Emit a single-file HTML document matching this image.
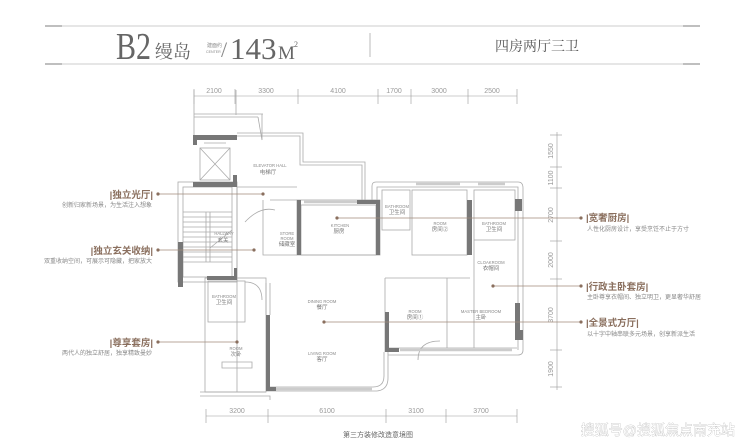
<!DOCTYPE html>
<html><head><meta charset="utf-8"><style>
html,body{margin:0;padding:0;background:#fff;}
svg{display:block;}
text{font-family:"Liberation Sans","Noto Sans CJK SC",sans-serif;}
.en{font-size:4.2px;fill:#888;}
.cn{font-size:5.5px;fill:#777;}
.dim{font-size:7px;fill:#999;font-family:"Liberation Sans Narrow","Liberation Sans",sans-serif;}
.t{font-size:9.5px;font-weight:bold;fill:#8a6f5e;}
.s{font-size:6px;fill:#888;}
.w{fill:none;stroke:#aaa;stroke-width:0.8;}
.d{fill:#777;}
</style></head><body>
<svg width="740" height="446" viewBox="0 0 740 446" xmlns="http://www.w3.org/2000/svg">
<!-- header -->
<line x1="45" y1="26" x2="700" y2="26" stroke="#ccc" stroke-width="1"/>
<line x1="45" y1="64" x2="700" y2="64" stroke="#ccc" stroke-width="1"/>
<line x1="45" y1="26" x2="62" y2="26" stroke="#aaa" stroke-width="1.5"/>
<line x1="45" y1="64" x2="62" y2="64" stroke="#aaa" stroke-width="1.5"/>
<line x1="683" y1="26" x2="700" y2="26" stroke="#aaa" stroke-width="1.5"/>
<line x1="683" y1="64" x2="700" y2="64" stroke="#aaa" stroke-width="1.5"/>
<text x="116" y="59" textLength="35" lengthAdjust="spacingAndGlyphs" style="font-family:'Liberation Serif',serif;font-size:38px;fill:#666;">B2</text>
<text x="155" y="58" style="font-family:'Liberation Serif','Noto Serif CJK SC',serif;font-size:18px;fill:#666;">缦岛</text>
<text x="207" y="47" style="font-size:5px;fill:#888;">建面约</text>
<text x="206" y="53" style="font-size:3.6px;fill:#888;">CENTER</text>
<text x="221" y="57" style="font-family:'Liberation Serif',serif;font-size:22px;fill:#888;">/</text>
<text x="230" y="59" style="font-family:'Liberation Serif',serif;font-size:31px;fill:#666;">143</text>
<text x="278" y="59" style="font-family:'Liberation Serif',serif;font-size:19px;fill:#666;">M</text>
<text x="294" y="47" style="font-family:'Liberation Serif',serif;font-size:8px;fill:#666;">2</text>
<line x1="370" y1="33" x2="370" y2="57" stroke="#aaa" stroke-width="0.8"/>
<text x="495" y="51" style="font-family:'Liberation Serif','Noto Serif CJK SC',serif;font-size:14px;fill:#555;">四房两厅三卫</text>

<!-- top dims -->
<g stroke="#999" stroke-width="0.6">
<line x1="194" y1="96" x2="517" y2="96"/>
<line x1="194" y1="89" x2="194" y2="104"/><line x1="235" y1="89" x2="235" y2="104"/><line x1="298" y1="89" x2="298" y2="104"/><line x1="378" y1="89" x2="378" y2="104"/><line x1="411" y1="89" x2="411" y2="104"/><line x1="468" y1="89" x2="468" y2="104"/><line x1="517" y1="89" x2="517" y2="104"/>
</g>
<g class="dim" text-anchor="middle">
<text x="214" y="93">2100</text><text x="266" y="93">3300</text><text x="338" y="93">4100</text><text x="394" y="93">1700</text><text x="439" y="93">3000</text><text x="492" y="93">2500</text>
</g>
<!-- bottom dims -->
<g stroke="#999" stroke-width="0.6">
<line x1="206" y1="416" x2="517" y2="416"/>
<line x1="206" y1="409" x2="206" y2="423"/><line x1="268" y1="409" x2="268" y2="423"/><line x1="386" y1="409" x2="386" y2="423"/><line x1="446" y1="409" x2="446" y2="423"/><line x1="517" y1="409" x2="517" y2="423"/>
</g>
<g class="dim" text-anchor="middle">
<text x="237" y="413">3200</text><text x="327" y="413">6100</text><text x="416" y="413">3100</text><text x="481" y="413">3700</text>
</g>
<!-- right dims -->
<g stroke="#999" stroke-width="0.6">
<line x1="557" y1="132" x2="557" y2="390"/>
<line x1="550" y1="135" x2="562" y2="135"/><line x1="550" y1="167" x2="562" y2="167"/><line x1="550" y1="188" x2="562" y2="188"/><line x1="550" y1="241" x2="562" y2="241"/><line x1="550" y1="279" x2="562" y2="279"/><line x1="550" y1="350" x2="562" y2="350"/><line x1="550" y1="387" x2="562" y2="387"/>
</g>
<g class="dim" text-anchor="middle">
<text transform="translate(553,151) rotate(-90)">1550</text>
<text transform="translate(553,178) rotate(-90)">1100</text>
<text transform="translate(553,215) rotate(-90)">2700</text>
<text transform="translate(553,260) rotate(-90)">2000</text>
<text transform="translate(553,315) rotate(-90)">3700</text>
<text transform="translate(553,369) rotate(-90)">1900</text>
</g>

<!-- plan -->
<g class="w">
<path d="M194 90 V135 M236 90 V115 M194 114 H263 M194 117 H258 M258 117 L262 140 M262 114 L262 140"/>
<path d="M237 133 H303 V162 H365 V200 M237 136 H300 V165 H362 V200"/>
<rect x="297" y="200" width="83" height="55"/>
<rect x="301" y="205" width="75" height="50"/>
<path d="M372 200 V186 Q372 182 376 182 H518 Q523 182 523 188 V350 Q523 355 518 355 H388"/>
<path d="M377 200 V187 H518 V350"/>
<rect x="382" y="190" width="28" height="40"/>
<rect x="412" y="190" width="55" height="65"/>
<rect x="474" y="190" width="41" height="50"/>
<path d="M474 240 V348 M447 278 V348 M385 278 H470 M385 278 V352 M385 348 H517"/>
<path d="M418 360 Q418 341 440 341" />
<rect x="178" y="182" width="59" height="100"/>
<rect x="183" y="187" width="49" height="90"/>
<path d="M183 212 H232 M183 217 H232 M183 222 H232 M183 227 H232 M183 232 H232 M183 237 H232 M183 242 H232 M183 247 H232 M183 252 H232 M183 257 H232 M183 262 H232 M206 212 V262 M210 212 V262 M210 248 L232 230"/>
<rect x="200" y="148" width="30" height="32"/>
<path d="M200 148 L230 180 M230 148 L200 180 M204 143 H226"/>
<path d="M237 187 V392 M237 187 H297 M263 200 V255 H297 M270 200 H297 M276 255 H297"/>
<path d="M245 222 Q260 206 275 210"/>
<rect x="205" y="278" width="61" height="114"/>
<rect x="208" y="281" width="37" height="41"/>
<path d="M200 392 H266 M200 396 H270 V400"/>
<path d="M222 362 H252 V368 H222 Z"/>
<path d="M266 391 H375 Q388 391 388 378 V352 M270 387 H373 Q384 387 384 376 V352"/>
<path d="M266 315 V283 M270 315 V283"/>
<path d="M245 282 Q262 282 262 300"/>
</g>
<g class="d">
<rect x="193" y="135" width="44" height="5"/>
<rect x="193" y="135" width="4" height="10"/>
<rect x="233" y="175" width="4" height="12"/>
<rect x="193" y="182" width="44" height="5"/>
<rect x="178" y="242" width="5" height="45"/>
<rect x="297" y="200" width="4" height="55"/>
<rect x="376" y="200" width="4" height="55"/>
<rect x="357" y="200" width="23" height="4"/>
<rect x="467" y="200" width="5" height="55"/>
<rect x="515" y="199" width="7" height="12"/>
<rect x="385" y="312" width="4" height="40"/>
<rect x="385" y="348" width="14" height="4"/>
<rect x="515" y="303" width="5" height="35"/>
<rect x="515" y="330" width="8" height="10"/>
<rect x="266" y="315" width="4" height="76"/>
<rect x="266" y="387" width="10" height="4"/>
<rect x="207" y="276" width="28" height="4"/>
<rect x="234" y="268" width="3" height="12"/>
</g>
<g stroke="#ccc" stroke-width="2.5">
<line x1="304" y1="202" x2="357" y2="202"/>
<line x1="416" y1="184" x2="460" y2="184"/>
<line x1="478" y1="184" x2="505" y2="184"/>
<line x1="276" y1="389" x2="372" y2="389"/>
<line x1="400" y1="350" x2="512" y2="350"/>
</g>

<g text-anchor="middle">
<text class="en" x="270" y="167">ELEVATOR HALL</text><text class="cn" x="268" y="174">电梯厅</text>
<text class="en" x="224" y="235">HALLWAY</text><text class="cn" x="223" y="242">玄关</text>
<text class="en" x="287" y="235">STORE</text><text class="en" x="287" y="240">ROOM</text><text class="cn" x="287" y="246">储藏室</text>
<text class="en" x="340" y="227">KITCHEN</text><text class="cn" x="339" y="233">厨房</text>
<text class="en" x="397" y="208">BATHROOM</text><text class="cn" x="397" y="214">卫生间</text>
<text class="en" x="440" y="225">ROOM</text><text class="cn" x="440" y="231">房间②</text>
<text class="en" x="494" y="225">BATHROOM</text><text class="cn" x="494" y="231">卫生间</text>
<text class="en" x="491" y="264">CLOAKROOM</text><text class="cn" x="491" y="270">衣帽间</text>
<text class="en" x="322" y="303">DINING ROOM</text><text class="cn" x="322" y="309">餐厅</text>
<text class="en" x="322" y="355">LIVING ROOM</text><text class="cn" x="322" y="361">客厅</text>
<text class="en" x="415" y="313">ROOM</text><text class="cn" x="415" y="319">房间①</text>
<text class="en" x="481" y="313">MASTER BEDROOM</text><text class="cn" x="481" y="319">主卧</text>
<text class="en" x="224" y="298">BATHROOM</text><text class="cn" x="224" y="304">卫生间</text>
<text class="en" x="236" y="350">ROOM</text><text class="cn" x="236" y="356">次卧</text>
</g>

<g stroke="#a08a7a" stroke-width="0.7">
<line x1="158" y1="194" x2="263" y2="194"/>
<line x1="158" y1="250" x2="254" y2="250"/>
<line x1="158" y1="342" x2="237" y2="342"/>
<line x1="337" y1="218" x2="581" y2="218"/>
<line x1="493" y1="286" x2="581" y2="286"/>
<line x1="324" y1="322" x2="581" y2="322"/>
</g>
<g fill="#8a6f5e">
<circle cx="158" cy="194" r="1.6"/><circle cx="263" cy="194" r="1.6"/>
<circle cx="158" cy="250" r="1.6"/><circle cx="254" cy="250" r="1.6"/>
<circle cx="158" cy="342" r="1.6"/><circle cx="237" cy="342" r="1.6"/>
<circle cx="581" cy="218" r="1.6"/><circle cx="337" cy="218" r="1.6"/>
<circle cx="581" cy="286" r="1.6"/><circle cx="493" cy="286" r="1.6"/>
<circle cx="581" cy="322" r="1.6"/><circle cx="324" cy="322" r="1.6"/>
</g>
<g text-anchor="end">
<text class="t" x="153" y="198">|独立光厅|</text><text class="s" x="152" y="207">创新归家新场景，为生活注入想象</text>
<text class="t" x="153" y="254">|独立玄关收纳|</text><text class="s" x="152" y="263">双重收纳空间，可展示可隐藏，把家放大</text>
<text class="t" x="153" y="346">|尊享套房|</text><text class="s" x="152" y="355">两代人的独立舒居，独享精致曼妙</text>
</g>
<g>
<text class="t" x="586" y="221">|宽奢厨房|</text><text class="s" x="587" y="231">人性化厨房设计，享受烹饪不止于方寸</text>
<text class="t" x="586" y="290">|行政主卧套房|</text><text class="s" x="587" y="299">主卧尊享衣帽间、独立明卫，更显奢华舒居</text>
<text class="t" x="586" y="326">|全景式方厅|</text><text class="s" x="587" y="336">以十字中轴串联多元场景，创享新派生活</text>
</g>
<text x="378" y="437" text-anchor="middle" style="font-size:7px;fill:#666;">第三方装修改造意境图</text>
<text x="735" y="435" text-anchor="end" style="font-size:14px;fill:#fff;stroke:#aaa;stroke-width:0.5;paint-order:stroke;">搜狐号@搜狐焦点南充站</text>
</svg>
</body></html>
